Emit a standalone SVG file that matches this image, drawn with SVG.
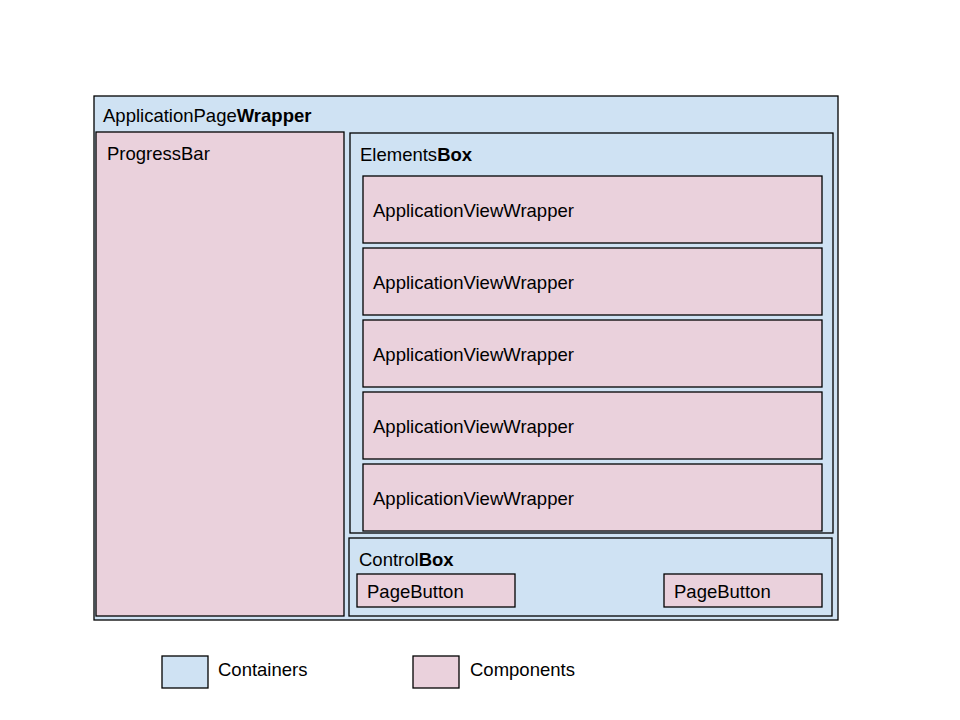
<svg xmlns="http://www.w3.org/2000/svg" width="960" height="720" viewBox="0 0 960 720">
<style>
.c{fill:#cfe2f3;stroke:#000;stroke-width:1.3}
.p{fill:#ead1dc;stroke:#000;stroke-width:1.3}
text{font-family:"Liberation Sans",Arial,sans-serif;font-size:18.5px;fill:#000}
.b{font-weight:bold}
</style>
<rect x="0" y="0" width="960" height="720" fill="#fff"/>
<g id="ApplicationPageWrapper">
<rect class="c" x="94" y="96" width="744" height="524"/>
<text x="103" y="122">ApplicationPage<tspan class="b">Wrapper</tspan></text>
</g>
<g id="ProgressBar">
<rect class="p" x="96" y="132" width="248" height="484"/>
<text x="107" y="160">ProgressBar</text>
</g>
<g id="ElementsBox">
<rect class="c" x="350" y="133" width="483" height="400"/>
<text x="360" y="161">Elements<tspan class="b">Box</tspan></text>
</g>
<g id="ApplicationViewWrapper1">
<rect class="p" x="363" y="176" width="459" height="67"/>
<text x="373" y="217">ApplicationViewWrapper</text>
</g>
<g id="ApplicationViewWrapper2">
<rect class="p" x="363" y="248" width="459" height="67"/>
<text x="373" y="289">ApplicationViewWrapper</text>
</g>
<g id="ApplicationViewWrapper3">
<rect class="p" x="363" y="320" width="459" height="67"/>
<text x="373" y="361">ApplicationViewWrapper</text>
</g>
<g id="ApplicationViewWrapper4">
<rect class="p" x="363" y="392" width="459" height="67"/>
<text x="373" y="433">ApplicationViewWrapper</text>
</g>
<g id="ApplicationViewWrapper5">
<rect class="p" x="363" y="464" width="459" height="67"/>
<text x="373" y="505">ApplicationViewWrapper</text>
</g>
<g id="ControlBox">
<rect class="c" x="349" y="538" width="483" height="78"/>
<text x="359" y="566">Control<tspan class="b">Box</tspan></text>
</g>
<g id="PageButton1">
<rect class="p" x="357" y="574" width="158" height="33"/>
<text x="367" y="598">PageButton</text>
</g>
<g id="PageButton2">
<rect class="p" x="664" y="574" width="158" height="33"/>
<text x="674" y="598">PageButton</text>
</g>
<g id="connectors"></g>
<g id="legend">
<g id="legend-containers">
<rect class="c" x="162" y="656" width="46" height="32"/>
<text x="218" y="676">Containers</text>
</g>
<g id="legend-components">
<rect class="p" x="413" y="656" width="46" height="32"/>
<text x="470" y="676">Components</text>
</g>
</g>
</svg>
